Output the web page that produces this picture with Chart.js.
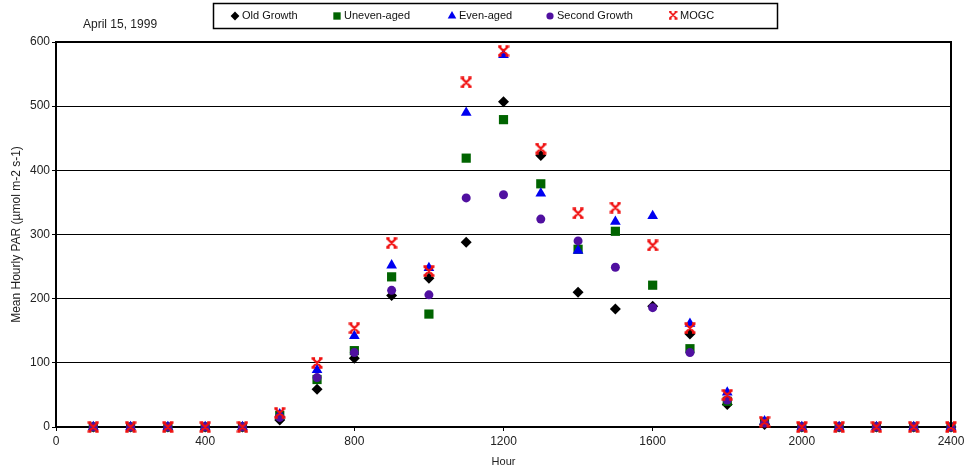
<!DOCTYPE html>
<html>
<head>
<meta charset="utf-8">
<script src="https://cdn.jsdelivr.net/npm/chart.js@4/dist/chart.umd.min.js"></script>
<style>
  html, body { margin: 0; padding: 0; background: #fff; }
  #wrap { width: 964px; height: 473px; position: relative; }
</style>
</head>
<body>
<div id="wrap"><canvas id="grafico"></canvas></div>
<script>
// datos
const horas = [100, 200, 300, 400, 500, 600, 700, 800, 900, 1000, 1100, 1200,
               1300, 1400, 1500, 1600, 1700, 1800, 1900, 2000, 2100, 2200, 2300, 2400];
const oldGrowth    = [0, 0, 0, 0, 0, 11, 59, 107, 205, 232, 288, 507, 423, 210, 184, 188, 145, 35, 4, 0, 0, 0, 0, 0];
const unevenAged   = [0, 0, 0, 0, 0, 18, 74, 119, 234, 176, 419, 479, 379, 277, 305, 221, 122, 40, 8, 0, 0, 0, 0, 0];
const evenAged     = [0, 0, 0, 0, 0, 20, 89, 142, 252, 248, 490, 580, 364, 275, 320, 329, 161, 54, 9, 0, 0, 0, 0, 0];
const secondGrowth = [0, 0, 0, 0, 0, 15, 77, 116, 213, 206, 357, 362, 324, 290, 249, 186, 116, 42, 6, 0, 0, 0, 0, 0];
const mogc         = [0, 0, 0, 0, 0, 22, 100, 154, 287, 243, 537, 586, 434, 333, 342, 283, 154, 50, 8, 0, 0, 0, 0, 0];
const seriesNames  = ['Old Growth', 'Uneven-aged', 'Even-aged', 'Second Growth', 'MOGC'];
const xTicks = [0, 400, 800, 1200, 1600, 2000, 2400];
const yTicks = [0, 100, 200, 300, 400, 500, 600];

const fuente = '"Liberation Sans", Arial, sans-serif';

// marcador del MOGC: una X con remates horizontales
const marcaMOGC = () => {
  const c = document.createElement('canvas');
  c.width = 12; c.height = 12;
  const g = c.getContext('2d');
  g.strokeStyle = '#f01010';
  g.lineWidth = 2.4;
  g.beginPath();
  g.moveTo(2, 2); g.lineTo(10, 10);
  g.moveTo(10, 2); g.lineTo(2, 10);
  g.moveTo(0.5, 1.5); g.lineTo(4, 1.5);
  g.moveTo(8, 1.5); g.lineTo(11.5, 1.5);
  g.moveTo(0.5, 10.5); g.lineTo(4, 10.5);
  g.moveTo(8, 10.5); g.lineTo(11.5, 10.5);
  g.stroke();
  return c;
};

const estilos = [
  { pointStyle: 'rectRot', color: '#000000', radius: 5.5 },
  { pointStyle: 'rect', color: '#006400', radius: 6.5 },
  { pointStyle: 'triangle', color: '#0000f0', radius: 6.2 },
  { pointStyle: 'circle', color: '#5010a0', radius: 4.5 },
  { pointStyle: marcaMOGC(), color: '#f01010', radius: 6 }
];

const valores = [oldGrowth, unevenAged, evenAged, secondGrowth, mogc];

const datasets = valores.map((serie, i) => ({
  label: seriesNames[i],
  data: serie.map((v, j) => ({ x: horas[j], y: v })),
  pointStyle: estilos[i].pointStyle,
  pointRadius: estilos[i].radius,
  pointHoverRadius: estilos[i].radius,
  backgroundColor: estilos[i].color,
  borderColor: estilos[i].color,
  pointBorderWidth: 0,
  showLine: false,
  clip: false,
  order: 5 - i // el ultimo queda arriba
}));

// recuadro, leyenda y fecha dibujados a mano
const extras = {
  id: 'extras',
  afterDraw(chart) {
    const ctx = chart.ctx;
    const a = chart.chartArea;
    ctx.save();
    ctx.strokeStyle = '#000';
    ctx.lineWidth = 2;
    ctx.beginPath();
    ctx.moveTo(a.left, a.top); ctx.lineTo(a.right, a.top); ctx.lineTo(a.right, a.bottom);
    ctx.stroke();

    // fecha
    ctx.fillStyle = '#222';
    ctx.font = '12px ' + fuente;
    ctx.textBaseline = 'middle';
    ctx.textAlign = 'left';
    ctx.fillText('April 15, 1999', 83, 25);

    // leyenda
    ctx.lineWidth = 1.5;
    ctx.strokeRect(213.5, 3.5, 564, 25);
    const xs = [235, 337, 452, 550, 673];
    ctx.font = '11px ' + fuente;
    seriesNames.forEach((nombre, i) => {
      const e = estilos[i];
      if (i === 4) {
        ctx.drawImage(e.pointStyle, xs[i] - 4.5, 15 - 4.5, 9, 9);
      } else {
        ctx.fillStyle = e.color;
        ctx.strokeStyle = e.color;
        Chart.helpers.drawPoint(ctx, {
          pointStyle: e.pointStyle, radius: e.radius * 0.8, borderWidth: 0, rotation: 0
        }, xs[i], 16);
      }
      ctx.fillStyle = '#111';
      ctx.fillText(nombre, xs[i] + 7, 15.5);
    });
    ctx.restore();
  }
};

new Chart(document.getElementById('grafico'), {
  type: 'scatter',
  data: { datasets: datasets },
  options: {
    responsive: true,
    maintainAspectRatio: false,
    animation: false,
    layout: { padding: { top: 42, right: 13, left: 5, bottom: 0 } },
    plugins: {
      legend: { display: false },
      tooltip: { enabled: false }
    },
    scales: {
      x: {
        type: 'linear',
        min: 0, max: 2400,
        afterBuildTicks: (s) => { s.ticks = xTicks.map(v => ({ value: v })); },
        afterFit: (s) => { s.height = 46; s.paddingLeft = 0; s.paddingRight = 0; },
        grid: { drawOnChartArea: false, drawTicks: true, tickLength: 4, color: '#000', lineWidth: 1 },
        border: { color: '#000', width: 2 },
        ticks: { color: '#222', font: { family: fuente, size: 12 }, padding: 3, maxRotation: 0,
                 callback: (v) => String(v) },
        title: { display: true, text: 'Hour', color: '#222', font: { family: fuente, size: 11 }, padding: { top: 4 } }
      },
      y: {
        min: 0, max: 600,
        afterBuildTicks: (s) => { s.ticks = yTicks.map(v => ({ value: v })); },
        afterFit: (s) => { s.width = 51; },
        grid: { color: '#000', lineWidth: 1, drawTicks: true, tickLength: 4 },
        border: { color: '#000', width: 2 },
        ticks: { color: '#222', font: { family: fuente, size: 12 }, padding: 2,
                 callback: (v) => String(v) },
        title: { display: true, text: 'Mean Hourly PAR (µmol m-2 s-1)', color: '#222', font: { family: fuente, size: 12 }, padding: { bottom: 0 } }
      }
    }
  },
  plugins: [extras]
});
</script>
</body>
</html>
